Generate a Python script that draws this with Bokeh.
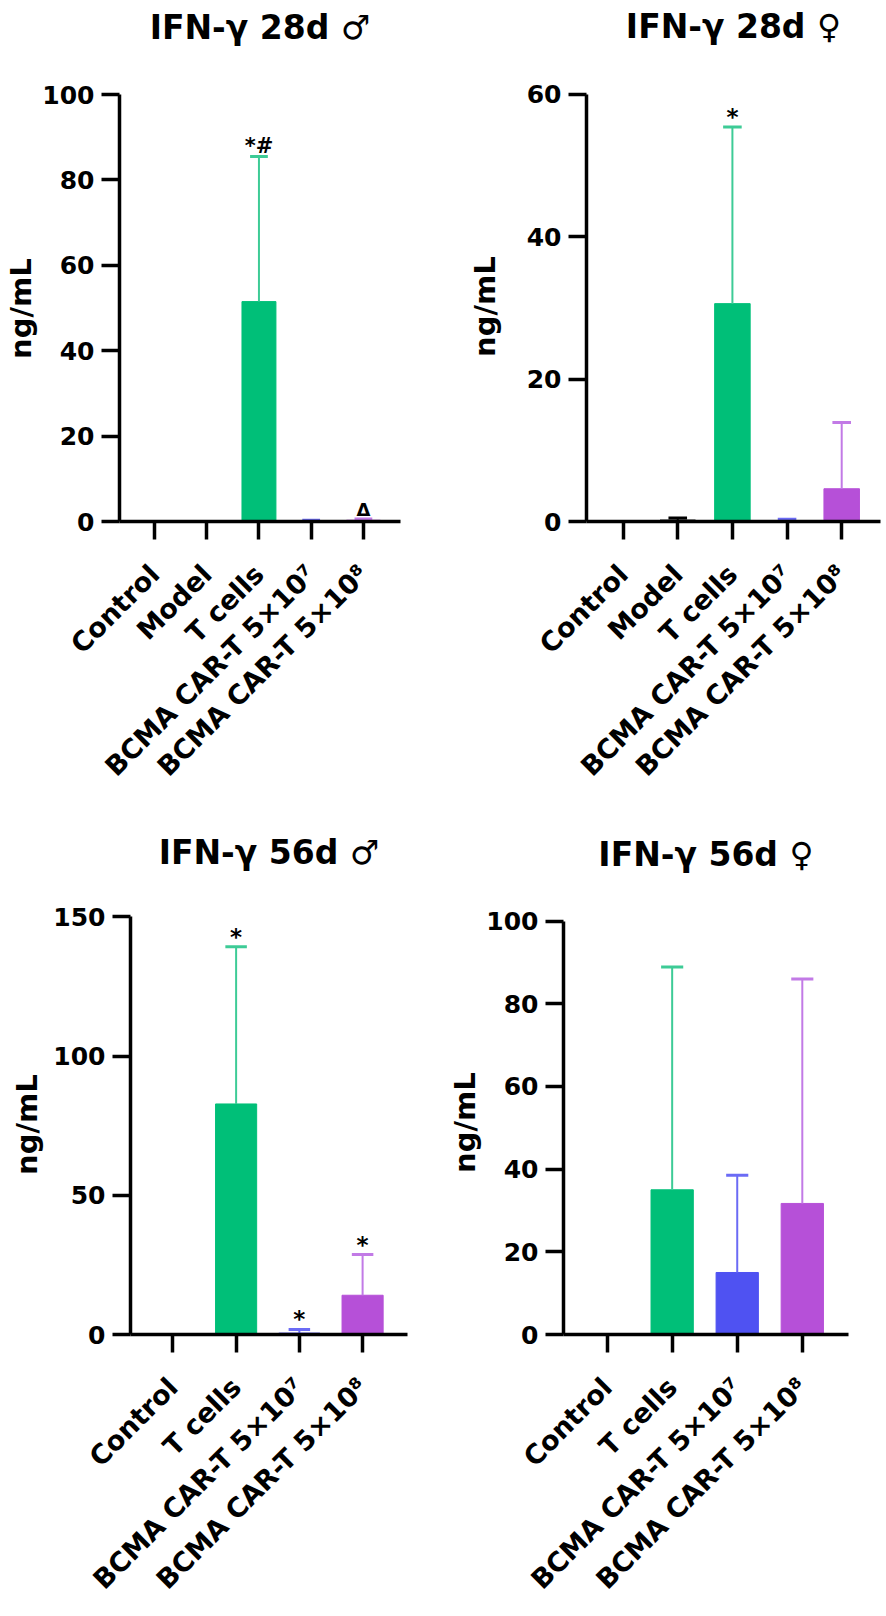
import math
from bokeh.plotting import figure
from bokeh.models import ColumnDataSource, FixedTicker, Range1d, Title
from bokeh.layouts import row, column
from bokeh.core.properties import value
from bokeh.embed import file_html
from bokeh.resources import INLINE

# ---------------- data ----------------
cats_28 = ["Control", "Model", "T cells", "BCMA CAR-T 5×10⁷", "BCMA CAR-T 5×10⁸"]
cats_56 = ["Control", "T cells", "BCMA CAR-T 5×10⁷", "BCMA CAR-T 5×10⁸"]

mean_28_m = [0.0, 0.0, 51.5, 0.1, 0.3]
sd_28_m = [0.0, 0.0, 34.0, 0.2, 0.3]
marks_28_m = ["", "", "*#", "", "Δ"]

mean_28_f = [0.0, 0.2, 30.6, 0.1, 4.6]
sd_28_f = [0.0, 0.3, 24.8, 0.2, 9.3]
marks_28_f = ["", "", "*", "", ""]

mean_56_m = [0.0, 82.8, 0.5, 14.1]
sd_56_m = [0.0, 56.5, 1.3, 14.6]
marks_56_m = ["", "*", "*", "*"]

mean_56_f = [0.0, 35.0, 15.0, 31.7]
sd_56_f = [0.0, 53.9, 23.5, 54.3]
marks_56_f = ["", "", "", ""]

yticks_28_m = [0, 20, 40, 60, 80, 100]
yticks_28_f = [0, 20, 40, 60]
yticks_56_m = [0, 50, 100, 150]
yticks_56_f = [0, 20, 40, 60, 80, 100]

bar_colors = {"Control": "#000000", "Model": "#000000", "T cells": "#00BF78",
              "BCMA CAR-T 5×10⁷": "#4F52F2", "BCMA CAR-T 5×10⁸": "#B650D8"}
err_colors = {"Control": "#000000", "Model": "#000000", "T cells": "#3DCB96",
              "BCMA CAR-T 5×10⁷": "#6B6BF5", "BCMA CAR-T 5×10⁸": "#C27AE6"}

FONT = "DejaVu Sans"


def make_panel(title, cats, means, sds, marks, yticks, width, height,
               left, right, top_px, zero_px, title_px, ylab_center_px, ylab_standoff):
    n = len(cats)
    xs = list(range(n))
    tops = [m + s for m, s in zip(means, sds)]
    cap = 0.17
    x0, x1 = -0.67, n - 1 + 0.71
    ymax = yticks[-1]
    # frame reaches the top of the figure so the title can sit inside it
    y_end = ymax * zero_px / (zero_px - top_px)
    src = ColumnDataSource(dict(
        x=xs, mean=means, top=tops,
        cx0=[x - cap for x in xs], cx1=[x + cap for x in xs],
        color=[bar_colors[c] for c in cats],
        ecolor=[err_colors[c] for c in cats],
    ))
    p = figure(width=width, height=height, output_backend="svg", toolbar_location=None,
               x_range=Range1d(x0, x1), y_range=Range1d(0, y_end),
               min_border_left=left, min_border_right=right,
               min_border_top=0, min_border_bottom=height - zero_px)
    p.xgrid.visible = False
    p.ygrid.visible = False
    p.outline_line_color = None

    p.text(x=[(x0 + x1) / 2], y=[ymax], text=[title], y_offset=-(top_px - title_px),
           text_align="center", text_baseline="middle", text_font=value(FONT),
           text_font_style="bold", text_font_size="33px", text_color="black")

    p.vbar(x="x", top="mean", bottom=0, width=0.65, fill_color="color",
           line_color="color", source=src)
    p.segment(x0="x", y0="mean", x1="x", y1="top", line_color="ecolor",
              line_width=2, source=src)
    p.segment(x0="cx0", y0="top", x1="cx1", y1="top", line_color="ecolor",
              line_width=3, source=src)

    # significance marks
    for kind, size, off in (("*", "23px", -10), ("*#", "21px", -10), ("Δ", "18px", -9)):
        idx = [i for i, t in enumerate(marks) if t == kind]
        if idx:
            p.text(x=[xs[i] for i in idx], y=[tops[i] for i in idx],
                   text=[marks[i] for i in idx], text_align="center",
                   text_baseline="alphabetic", y_offset=off,
                   text_font=value(FONT), text_font_style="bold",
                   text_font_size=size, text_color="black")

    for ax in (p.xaxis[0], p.yaxis[0]):
        ax.axis_line_width = 3.5
        ax.axis_line_color = "black"
        ax.major_tick_line_width = 3.5
        ax.major_tick_line_color = "black"
        ax.major_tick_out = 18
        ax.major_tick_in = 0
        ax.minor_tick_out = 0
        ax.minor_tick_in = 0
        ax.major_label_text_font = FONT
        ax.major_label_text_font_style = "bold"
        ax.major_label_text_font_size = "25px"
        ax.major_label_text_color = "black"

    xa = p.xaxis[0]
    xa.ticker = FixedTicker(ticks=xs)
    xa.major_label_overrides = {i: c for i, c in enumerate(cats)}
    xa.major_label_orientation = math.pi / 4
    xa.major_label_standoff = 30
    xa.major_label_text_font_size = "27px"

    ya = p.yaxis[0]
    ya.ticker = FixedTicker(ticks=yticks)
    ya.bounds = (0, ymax)
    ya.major_label_standoff = 7

    # y-axis label, centred on the 0..ymax part of the axis
    ylab_len = 101
    p.add_layout(Title(text="ng/mL", align="left",
                       offset=zero_px - (ylab_center_px + ylab_len / 2),
                       standoff=ylab_standoff, text_font=FONT, text_font_size="29px",
                       text_font_style="bold", text_color="black"), "left")
    return p


p1 = make_panel("IFN-γ 28d ♂", cats_28, mean_28_m, sd_28_m, marks_28_m, yticks_28_m,
                443, 808, 116, 43, 94, 521, 27, 308, 3)
p2 = make_panel("IFN-γ 28d ♀", cats_28, mean_28_f, sd_28_f, marks_28_f, yticks_28_f,
                443, 808, 143, 6, 94, 522, 26, 307, 44)
p3 = make_panel("IFN-γ 56d ♂", cats_56, mean_56_m, sd_56_m, marks_56_m, yticks_56_m,
                443, 800, 127, 36, 110, 534, 46, 324, 14)
p4 = make_panel("IFN-γ 56d ♀", cats_56, mean_56_f, sd_56_f, marks_56_f, yticks_56_f,
                443, 800, 117, 38, 116, 542, 49, 330, 4)

layout = column(row(p1, p2), row(p3, p4))
open("out.html", "w").write(file_html(layout, INLINE))
